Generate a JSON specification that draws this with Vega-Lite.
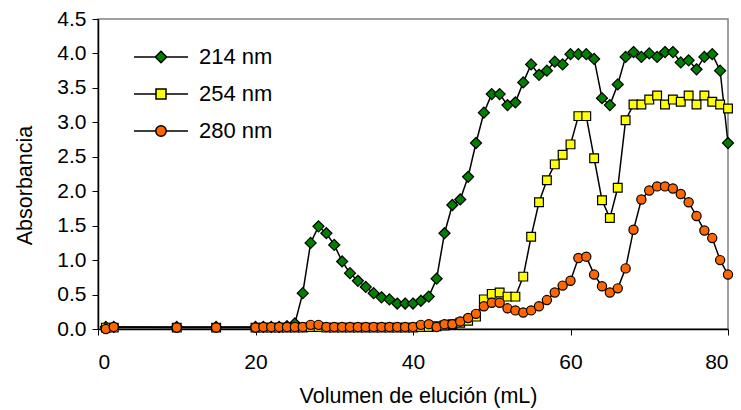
{
  "$schema": "https://vega.github.io/schema/vega-lite/v6.json",
  "width": 630,
  "height": 310,
  "autosize": "none",
  "padding": {"left": 98, "top": 19, "right": 13, "bottom": 81},
  "background": "white",
  "config": {
    "font": "Liberation Sans",
    "view": {"stroke": "#808080", "strokeWidth": 1.5},
    "axis": {
      "grid": false,
      "domainColor": "black",
      "domainWidth": 1.5,
      "tickColor": "black",
      "tickWidth": 1,
      "tickSize": 6,
      "labelColor": "black",
      "labelFont": "Liberation Sans",
      "labelFontSize": 21,
      "titleColor": "black",
      "titleFont": "Liberation Sans",
      "titleFontSize": 21.5,
      "titleFontWeight": "normal"
    }
  },
  "data": {
    "values": [
      {"x": 1, "s": "214 nm", "a": 0.03}, {"x": 2, "s": "214 nm", "a": 0.03}, {"x": 10, "s": "214 nm", "a": 0.03}, {"x": 15, "s": "214 nm", "a": 0.03},
      {"x": 20, "s": "214 nm", "a": 0.03}, {"x": 21, "s": "214 nm", "a": 0.03}, {"x": 22, "s": "214 nm", "a": 0.03}, {"x": 23, "s": "214 nm", "a": 0.03},
      {"x": 24, "s": "214 nm", "a": 0.04}, {"x": 25, "s": "214 nm", "a": 0.08}, {"x": 26, "s": "214 nm", "a": 0.52}, {"x": 27, "s": "214 nm", "a": 1.25},
      {"x": 28, "s": "214 nm", "a": 1.49}, {"x": 29, "s": "214 nm", "a": 1.39}, {"x": 30, "s": "214 nm", "a": 1.22}, {"x": 31, "s": "214 nm", "a": 0.98},
      {"x": 32, "s": "214 nm", "a": 0.81}, {"x": 33, "s": "214 nm", "a": 0.70}, {"x": 34, "s": "214 nm", "a": 0.61}, {"x": 35, "s": "214 nm", "a": 0.52},
      {"x": 36, "s": "214 nm", "a": 0.46}, {"x": 37, "s": "214 nm", "a": 0.43}, {"x": 38, "s": "214 nm", "a": 0.37}, {"x": 39, "s": "214 nm", "a": 0.37},
      {"x": 40, "s": "214 nm", "a": 0.37}, {"x": 41, "s": "214 nm", "a": 0.41}, {"x": 42, "s": "214 nm", "a": 0.47}, {"x": 43, "s": "214 nm", "a": 0.73},
      {"x": 44, "s": "214 nm", "a": 1.39}, {"x": 45, "s": "214 nm", "a": 1.80}, {"x": 46, "s": "214 nm", "a": 1.88}, {"x": 47, "s": "214 nm", "a": 2.21},
      {"x": 48, "s": "214 nm", "a": 2.70}, {"x": 49, "s": "214 nm", "a": 3.14}, {"x": 50, "s": "214 nm", "a": 3.41}, {"x": 51, "s": "214 nm", "a": 3.41},
      {"x": 52, "s": "214 nm", "a": 3.25}, {"x": 53, "s": "214 nm", "a": 3.29}, {"x": 54, "s": "214 nm", "a": 3.58}, {"x": 55, "s": "214 nm", "a": 3.84},
      {"x": 56, "s": "214 nm", "a": 3.69}, {"x": 57, "s": "214 nm", "a": 3.75}, {"x": 58, "s": "214 nm", "a": 3.88}, {"x": 59, "s": "214 nm", "a": 3.84},
      {"x": 60, "s": "214 nm", "a": 3.99}, {"x": 61, "s": "214 nm", "a": 3.99}, {"x": 62, "s": "214 nm", "a": 3.99}, {"x": 63, "s": "214 nm", "a": 3.92},
      {"x": 64, "s": "214 nm", "a": 3.35}, {"x": 65, "s": "214 nm", "a": 3.25}, {"x": 66, "s": "214 nm", "a": 3.55}, {"x": 67, "s": "214 nm", "a": 3.95},
      {"x": 68, "s": "214 nm", "a": 4.02}, {"x": 69, "s": "214 nm", "a": 3.95}, {"x": 70, "s": "214 nm", "a": 4.0}, {"x": 71, "s": "214 nm", "a": 3.95},
      {"x": 72, "s": "214 nm", "a": 4.02}, {"x": 73, "s": "214 nm", "a": 4.02}, {"x": 74, "s": "214 nm", "a": 3.87}, {"x": 75, "s": "214 nm", "a": 3.90},
      {"x": 76, "s": "214 nm", "a": 3.77}, {"x": 77, "s": "214 nm", "a": 3.95}, {"x": 78, "s": "214 nm", "a": 3.99}, {"x": 79, "s": "214 nm", "a": 3.75},
      {"x": 80, "s": "214 nm", "a": 2.70},

      {"x": 1, "s": "254 nm", "a": 0.02}, {"x": 2, "s": "254 nm", "a": 0.02}, {"x": 10, "s": "254 nm", "a": 0.02}, {"x": 15, "s": "254 nm", "a": 0.02},
      {"x": 20, "s": "254 nm", "a": 0.02}, {"x": 21, "s": "254 nm", "a": 0.02}, {"x": 22, "s": "254 nm", "a": 0.02}, {"x": 23, "s": "254 nm", "a": 0.02},
      {"x": 24, "s": "254 nm", "a": 0.02}, {"x": 25, "s": "254 nm", "a": 0.02}, {"x": 26, "s": "254 nm", "a": 0.02}, {"x": 27, "s": "254 nm", "a": 0.03},
      {"x": 28, "s": "254 nm", "a": 0.03}, {"x": 29, "s": "254 nm", "a": 0.02}, {"x": 30, "s": "254 nm", "a": 0.02}, {"x": 31, "s": "254 nm", "a": 0.02},
      {"x": 32, "s": "254 nm", "a": 0.02}, {"x": 33, "s": "254 nm", "a": 0.02}, {"x": 34, "s": "254 nm", "a": 0.02}, {"x": 35, "s": "254 nm", "a": 0.02},
      {"x": 36, "s": "254 nm", "a": 0.02}, {"x": 37, "s": "254 nm", "a": 0.02}, {"x": 38, "s": "254 nm", "a": 0.02}, {"x": 39, "s": "254 nm", "a": 0.02},
      {"x": 40, "s": "254 nm", "a": 0.02}, {"x": 41, "s": "254 nm", "a": 0.03}, {"x": 42, "s": "254 nm", "a": 0.03}, {"x": 43, "s": "254 nm", "a": 0.04},
      {"x": 44, "s": "254 nm", "a": 0.05}, {"x": 45, "s": "254 nm", "a": 0.07}, {"x": 46, "s": "254 nm", "a": 0.09}, {"x": 47, "s": "254 nm", "a": 0.12},
      {"x": 48, "s": "254 nm", "a": 0.18}, {"x": 49, "s": "254 nm", "a": 0.43}, {"x": 50, "s": "254 nm", "a": 0.51}, {"x": 51, "s": "254 nm", "a": 0.53},
      {"x": 52, "s": "254 nm", "a": 0.47}, {"x": 53, "s": "254 nm", "a": 0.47}, {"x": 54, "s": "254 nm", "a": 0.76}, {"x": 55, "s": "254 nm", "a": 1.34},
      {"x": 56, "s": "254 nm", "a": 1.84}, {"x": 57, "s": "254 nm", "a": 2.16}, {"x": 58, "s": "254 nm", "a": 2.39}, {"x": 59, "s": "254 nm", "a": 2.53},
      {"x": 60, "s": "254 nm", "a": 2.68}, {"x": 61, "s": "254 nm", "a": 3.09}, {"x": 62, "s": "254 nm", "a": 3.09}, {"x": 63, "s": "254 nm", "a": 2.48},
      {"x": 64, "s": "254 nm", "a": 1.87}, {"x": 65, "s": "254 nm", "a": 1.61}, {"x": 66, "s": "254 nm", "a": 2.05}, {"x": 67, "s": "254 nm", "a": 3.03},
      {"x": 68, "s": "254 nm", "a": 3.26}, {"x": 69, "s": "254 nm", "a": 3.26}, {"x": 70, "s": "254 nm", "a": 3.33}, {"x": 71, "s": "254 nm", "a": 3.39},
      {"x": 72, "s": "254 nm", "a": 3.26}, {"x": 73, "s": "254 nm", "a": 3.33}, {"x": 74, "s": "254 nm", "a": 3.30}, {"x": 75, "s": "254 nm", "a": 3.39},
      {"x": 76, "s": "254 nm", "a": 3.26}, {"x": 77, "s": "254 nm", "a": 3.39}, {"x": 78, "s": "254 nm", "a": 3.30}, {"x": 79, "s": "254 nm", "a": 3.26},
      {"x": 80, "s": "254 nm", "a": 3.20},

      {"x": 1, "s": "280 nm", "a": 0.0}, {"x": 2, "s": "280 nm", "a": 0.03}, {"x": 10, "s": "280 nm", "a": 0.02}, {"x": 15, "s": "280 nm", "a": 0.02},
      {"x": 20, "s": "280 nm", "a": 0.02}, {"x": 21, "s": "280 nm", "a": 0.03}, {"x": 22, "s": "280 nm", "a": 0.03}, {"x": 23, "s": "280 nm", "a": 0.03},
      {"x": 24, "s": "280 nm", "a": 0.03}, {"x": 25, "s": "280 nm", "a": 0.03}, {"x": 26, "s": "280 nm", "a": 0.03}, {"x": 27, "s": "280 nm", "a": 0.06},
      {"x": 28, "s": "280 nm", "a": 0.06}, {"x": 29, "s": "280 nm", "a": 0.03}, {"x": 30, "s": "280 nm", "a": 0.03}, {"x": 31, "s": "280 nm", "a": 0.03},
      {"x": 32, "s": "280 nm", "a": 0.03}, {"x": 33, "s": "280 nm", "a": 0.03}, {"x": 34, "s": "280 nm", "a": 0.03}, {"x": 35, "s": "280 nm", "a": 0.03},
      {"x": 36, "s": "280 nm", "a": 0.03}, {"x": 37, "s": "280 nm", "a": 0.03}, {"x": 38, "s": "280 nm", "a": 0.03}, {"x": 39, "s": "280 nm", "a": 0.03},
      {"x": 40, "s": "280 nm", "a": 0.03}, {"x": 41, "s": "280 nm", "a": 0.06}, {"x": 42, "s": "280 nm", "a": 0.07}, {"x": 43, "s": "280 nm", "a": 0.03},
      {"x": 44, "s": "280 nm", "a": 0.07}, {"x": 45, "s": "280 nm", "a": 0.07}, {"x": 46, "s": "280 nm", "a": 0.11}, {"x": 47, "s": "280 nm", "a": 0.16},
      {"x": 48, "s": "280 nm", "a": 0.22}, {"x": 49, "s": "280 nm", "a": 0.33}, {"x": 50, "s": "280 nm", "a": 0.38}, {"x": 51, "s": "280 nm", "a": 0.38},
      {"x": 52, "s": "280 nm", "a": 0.30}, {"x": 53, "s": "280 nm", "a": 0.27}, {"x": 54, "s": "280 nm", "a": 0.24}, {"x": 55, "s": "280 nm", "a": 0.27},
      {"x": 56, "s": "280 nm", "a": 0.33}, {"x": 57, "s": "280 nm", "a": 0.42}, {"x": 58, "s": "280 nm", "a": 0.53}, {"x": 59, "s": "280 nm", "a": 0.63},
      {"x": 60, "s": "280 nm", "a": 0.70}, {"x": 61, "s": "280 nm", "a": 1.03}, {"x": 62, "s": "280 nm", "a": 1.05}, {"x": 63, "s": "280 nm", "a": 0.79},
      {"x": 64, "s": "280 nm", "a": 0.62}, {"x": 65, "s": "280 nm", "a": 0.53}, {"x": 66, "s": "280 nm", "a": 0.59}, {"x": 67, "s": "280 nm", "a": 0.88},
      {"x": 68, "s": "280 nm", "a": 1.44}, {"x": 69, "s": "280 nm", "a": 1.88}, {"x": 70, "s": "280 nm", "a": 2.01}, {"x": 71, "s": "280 nm", "a": 2.07},
      {"x": 72, "s": "280 nm", "a": 2.07}, {"x": 73, "s": "280 nm", "a": 2.04}, {"x": 74, "s": "280 nm", "a": 1.96}, {"x": 75, "s": "280 nm", "a": 1.84},
      {"x": 76, "s": "280 nm", "a": 1.64}, {"x": 77, "s": "280 nm", "a": 1.43}, {"x": 78, "s": "280 nm", "a": 1.32}, {"x": 79, "s": "280 nm", "a": 1.00},
      {"x": 80, "s": "280 nm", "a": 0.79}
    ]
  },
  "encoding": {
    "x": {
      "field": "x", "type": "quantitative",
      "scale": {"domain": [0, 80], "nice": false, "zero": false},
      "axis": {"values": [0, 20, 40, 60, 80], "title": "Volumen de elución (mL)", "labelPadding": 16, "titlePadding": 13, "titleX": 320}
    },
    "y": {
      "field": "a", "type": "quantitative",
      "scale": {"domain": [0, 4.5], "nice": false},
      "axis": {"values": [0, 0.5, 1, 1.5, 2, 2.5, 3, 3.5, 4, 4.5], "format": ".1f", "title": "Absorbancia", "labelPadding": 6, "titlePadding": 20, "titleY": 166}
    }
  },
  "layer": [
    {
      "mark": {"type": "line", "color": "black", "strokeWidth": 1.5},
      "encoding": {"detail": {"field": "s", "type": "nominal"}}
    },
    {
      "mark": {"type": "point", "filled": true, "opacity": 1, "stroke": "black", "strokeWidth": 1.2, "size": 85},
      "encoding": {
        "shape": {"field": "s", "type": "nominal", "legend": null,
          "scale": {"domain": ["214 nm", "254 nm", "280 nm"], "range": ["M0,-1.2L1.2,0L0,1.2L-1.2,0Z", "M-0.95,-0.95H0.95V0.95H-0.95Z", "circle"]}},
        "fill": {"field": "s", "type": "nominal", "legend": null,
          "scale": {"domain": ["214 nm", "254 nm", "280 nm"], "range": ["#008000", "#FFFF00", "#FF6600"]}}
      }
    },
    {
      "transform": [{"filter": "datum.x < 0"}],
      "mark": {"type": "point", "filled": true, "opacity": 1, "stroke": "black", "strokeWidth": 1.5},
      "encoding": {
        "shape": {"field": "s", "type": "nominal",
          "scale": {"domain": ["214 nm", "254 nm", "280 nm"], "range": [
            "M-5.4,0H-1.15M1.15,0H5.4M-1.15,0L0,-1.15L1.15,0L0,1.15Z",
            "M-5.4,0H-1M1,0H5.4M-1,-1H1V1H-1Z",
            "M-5.4,0H-1.05M1.05,0H5.4M-1.05,0A1.05,1.05 0 1,0 1.05,0A1.05,1.05 0 1,0 -1.05,0Z"]},
          "legend": {"title": null, "orient": "none", "legendX": 52, "legendY": 27, "symbolSize": 100,
            "labelFontSize": 22, "labelFont": "Liberation Sans", "labelColor": "black",
            "labelOffset": 27, "rowPadding": 15, "symbolFillColor": "#000000", "symbolStrokeColor": "black", "symbolStrokeWidth": 1.5, "symbolOpacity": 1}},
        "fill": {"field": "s", "type": "nominal",
          "scale": {"domain": ["214 nm", "254 nm", "280 nm"], "range": ["#008000", "#FFFF00", "#FF6600"]},
          "legend": {"title": null, "orient": "none", "legendX": 52, "legendY": 27, "symbolSize": 100,
            "labelFontSize": 22, "labelFont": "Liberation Sans", "labelColor": "black",
            "labelOffset": 27, "rowPadding": 15, "symbolFillColor": "#000000", "symbolStrokeColor": "black", "symbolStrokeWidth": 1.5, "symbolOpacity": 1}}
      }
    }
  ],
  "resolve": {"scale": {"shape": "independent", "fill": "independent"}}
}
